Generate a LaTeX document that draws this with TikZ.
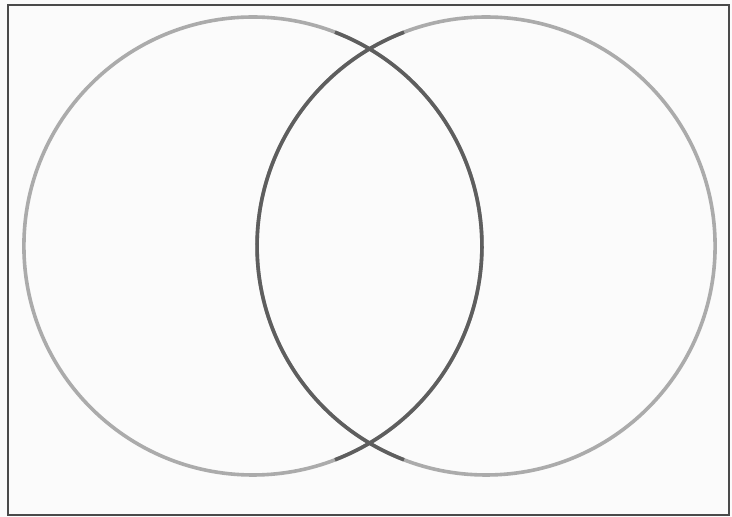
\documentclass[tikz,border=0pt]{standalone}
\definecolor{framecol}{HTML}{4A4A4A}
\definecolor{lightring}{HTML}{ABABAB}
\definecolor{darkring}{HTML}{5E5E5E}
\definecolor{paper}{HTML}{FBFBFB}
\tikzset{
  frameline/.style={draw=framecol, line width=2pt},
  outerring/.style={draw=lightring, line width=3.6pt},
  innerring/.style={draw=darkring, line width=3.6pt},
}
\begin{document}
\begin{tikzpicture}
\useasboundingbox[fill=paper] (0pt,0pt) rectangle (732pt,517pt);
\coordinate (L) at (252.9pt,271pt);
\coordinate (R) at (486.1pt,271pt);
\draw[frameline] (8pt,2pt) rectangle (729pt,512pt);
\draw[outerring] (L) circle [radius=229pt];
\draw[outerring] (R) circle [radius=229pt];
\draw[innerring] ([shift={(-69:229pt)}]L) arc [start angle=-69, end angle=69, radius=229pt];
\draw[innerring] ([shift={(111:229pt)}]R) arc [start angle=111, end angle=249, radius=229pt];
\end{tikzpicture}
\end{document}
